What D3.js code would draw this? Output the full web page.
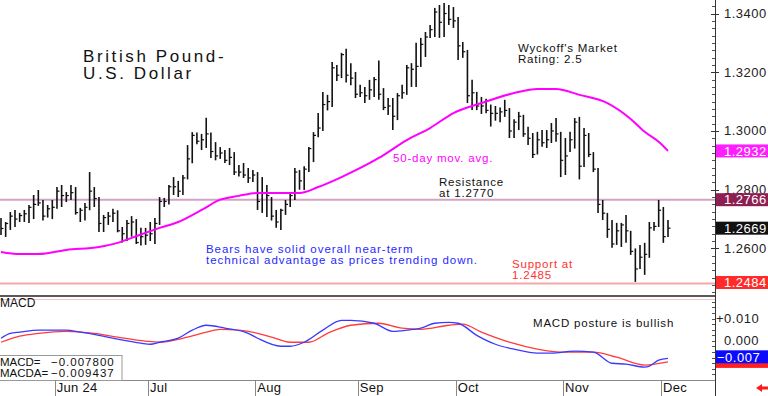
<!DOCTYPE html>
<html>
<head>
<meta charset="utf-8">
<script src="https://cdn.jsdelivr.net/npm/d3@7"></script>
<style>
  body { margin: 0; background: #fff; }
  svg { display: block; font-family: "Liberation Sans", Arial, sans-serif; }
</style>
</head>
<body>
<svg id="chart" width="768" height="396"></svg>
<script>
// trading days, weekdays only
const firstDay = new Date(2024, 4, 16)
const lastDay = new Date(2024, 11, 3)
const monthLabels = ["Jun 24", "Jul", "Aug", "Sep", "Oct", "Nov", "Dec"]

const highs = [1.2704,1.2690,1.2724,1.2731,1.2721,1.2731,1.2748,1.2782,1.2799,1.2765,1.2748,1.2765,
  1.2809,1.2816,1.2792,1.2816,1.2809,1.2738,1.2755,1.2860,1.2809,1.2775,1.2714,1.2724,1.2735,1.2730,1.2673,1.2697,1.2710,1.2700,1.2670,1.2670,
  1.2690,1.2704,1.2775,1.2772,1.2816,1.2843,1.2830,1.2850,1.2952,1.2996,1.2995,1.2990,1.3045,1.2995,1.2962,1.2945,1.2935,1.2942,1.2928,1.2884,1.2891,1.2874,1.2867,
  1.2860,1.2843,1.2816,1.2775,1.2731,1.2735,1.2765,1.2790,1.2874,1.2867,1.2880,1.2945,1.2996,1.3061,1.3133,1.3123,1.3235,1.3225,1.3266,1.3280,1.3231,1.3201,
  1.3157,1.3150,1.3174,1.3184,1.3240,1.3146,1.3112,1.3112,1.3129,1.3157,1.3225,1.3231,1.3300,1.3317,1.3337,1.3361,1.3419,1.3429,1.3436,1.3429,1.3422,
  1.3388,1.3303,1.3276,1.3174,1.3133,1.3116,1.3110,1.3090,1.3085,1.3080,1.3106,1.3078,1.3040,1.3065,1.3055,1.3014,1.2993,1.2997,1.3003,1.3003,1.3027,1.3044,1.2997,
  1.2976,1.2997,1.3044,1.3048,1.3010,1.2993,1.2928,1.2874,1.2765,1.2721,1.2697,1.2687,1.2687,1.2714,1.2660,1.2600,1.2612,1.2619,1.2690,1.2690,1.2765,
  1.2741,1.2697]
const lows = [1.2646,1.2639,1.2663,1.2673,1.2690,1.2690,1.2687,1.2700,1.2745,1.2695,1.2705,1.2700,
  1.2735,1.2741,1.2758,1.2765,1.2715,1.2690,1.2695,1.2730,1.2741,1.2656,1.2656,1.2680,1.2690,1.2655,1.2620,1.2625,1.2640,1.2615,1.2610,1.2612,
  1.2625,1.2615,1.2680,1.2741,1.2750,1.2782,1.2775,1.2782,1.2835,1.2890,1.2955,1.2935,1.2942,1.2908,1.2900,1.2905,1.2891,1.2884,1.2850,1.2845,1.2840,1.2823,1.2826,
  1.2731,1.2721,1.2707,1.2695,1.2670,1.2663,1.2714,1.2741,1.2765,1.2800,1.2799,1.2860,1.2894,1.2979,1.3000,1.3070,1.3082,1.3170,1.3180,1.3165,1.3156,1.3112,
  1.3116,1.3095,1.3106,1.3116,1.3106,1.3071,1.3054,1.3003,1.3037,1.3110,1.3123,1.3150,1.3150,1.3218,1.3252,1.3317,1.3320,1.3317,1.3320,1.3361,1.3351,
  1.3242,1.3249,1.3095,1.3071,1.3071,1.3058,1.3060,1.3015,1.3035,1.3030,1.3048,1.2976,1.2976,1.3003,1.2980,1.2952,1.2908,1.2920,1.2946,1.2942,1.2959,1.2963,1.2843,
  1.2850,1.2928,1.2940,1.2835,1.2877,1.2911,1.2860,1.2721,1.2697,1.2636,1.2602,1.2612,1.2605,1.2619,1.2578,1.2486,1.2530,1.2510,1.2568,1.2660,1.2673,
  1.2619,1.2639]
const closes = [1.2668,1.2685,1.2710,1.2700,1.2712,1.2718,1.2740,1.2750,1.2755,1.2710,1.2735,1.2740,
  1.2795,1.2780,1.2780,1.2790,1.2722,1.2730,1.2740,1.2795,1.2770,1.2685,1.2705,1.2710,1.2720,1.2660,1.2650,1.2685,1.2690,1.2620,1.2640,1.2645,
  1.2650,1.2685,1.2760,1.2760,1.2810,1.2810,1.2795,1.2840,1.2905,1.2985,1.2965,1.2970,1.2990,1.2930,1.2915,1.2925,1.2900,1.2910,1.2860,1.2860,1.2850,1.2840,1.2850,
  1.2760,1.2790,1.2780,1.2710,1.2690,1.2730,1.2750,1.2780,1.2860,1.2830,1.2870,1.2940,1.2985,1.3010,1.3090,1.3100,1.3215,1.3190,1.3260,1.3190,1.3180,1.3125,
  1.3130,1.3120,1.3140,1.3175,1.3125,1.3080,1.3085,1.3050,1.3120,1.3130,1.3215,1.3210,1.3220,1.3295,1.3320,1.3345,1.3405,1.3370,1.3400,1.3380,1.3375,
  1.3290,1.3270,1.3120,1.3130,1.3085,1.3085,1.3070,1.3060,1.3060,1.3065,1.3070,1.3000,1.3030,1.3050,1.2990,1.2975,1.2920,1.2970,1.2960,1.2970,1.3000,1.2990,1.2900,
  1.2915,1.2970,1.3030,1.2880,1.2985,1.2920,1.2870,1.2750,1.2720,1.2665,1.2615,1.2660,1.2680,1.2660,1.2590,1.2530,1.2570,1.2580,1.2670,1.2675,1.2730,
  1.2640,1.2669]

// 50-day moving average, read at bar index
const maIdx = [0,4,8,14,21,25,28,34,38,43,47,51,55,64,68,73,81,87,92,97,103,110,115,119,124,130,135,138,141,143]
const maVal = [1.2588,1.2581,1.2581,1.2595,1.2605,1.2619,1.2636,1.2670,1.2690,1.2731,1.2766,1.2779,1.2789,1.2789,1.2809,1.2843,1.2908,1.2969,1.3010,1.3061,1.3095,1.3129,1.3143,1.3143,1.3123,1.3095,1.3041,1.2997,1.2963,1.2932]

// MACD (blue) and signal (red)
const macdIdx = [0,2,4,8,10,14,17,21,25,30,32,34,38,41,44,48,53,55,60,62,65,69,73,75,80,84,87,90,93,96,98,102,106,110,115,118,123,127,131,134,138,139,141,143]
const macdVal = [0.0012,0.0034,0.0039,0.0048,0.0048,0.0048,0.0039,0.0025,0.0008,-0.0010,-0.0015,-0.0006,0.0012,0.0048,0.0070,0.0057,0.0034,0.0012,-0.0024,-0.0024,-0.0006,0.0048,0.0092,0.0092,0.0079,0.0043,0.0048,0.0057,0.0079,0.0083,0.0079,0.0025,-0.0015,-0.0037,-0.0055,-0.0055,-0.0046,-0.0050,-0.0100,-0.0104,-0.0117,-0.0113,-0.0086,-0.0078]
const sigIdx = [0,4,8,14,20,25,31,34,40,44,47,51,55,58,62,66,70,75,81,86,90,96,99,103,109,115,120,127,132,138,143]
const sigVal = [-0.0006,0.0021,0.0034,0.0043,0.0034,0.0017,-0.0001,-0.0006,0.0017,0.0039,0.0052,0.0048,0.0034,0.0017,-0.0006,-0.0006,0.0034,0.0070,0.0079,0.0057,0.0052,0.0070,0.0075,0.0039,-0.0006,-0.0037,-0.0050,-0.0050,-0.0073,-0.0108,-0.0094]
const macdNow = -0.007800, macdaNow = -0.009437

const priceTicks = [1.26, 1.28, 1.30, 1.32, 1.34]
const macdTicks = [0.01, 0]
const resistance = 1.2766, support = 1.2484

const svg = d3.select("#chart")
const W = 768, plotR = 715
const days = d3.timeDay.range(firstDay, d3.timeDay.offset(lastDay, 1)).filter(d => d.getDay() > 0 && d.getDay() < 6)

const x = d3.scaleLinear().domain([0, days.length - 1]).range([1, 668])
const y = d3.scaleLinear().domain([1.2438, 1.3446]).range([296, 0])
const ym = d3.scaleLinear().domain([-0.0175, 0.0192]).range([380, 298])

// level lines
svg.append("line").attr("x1", 0).attr("x2", plotR).attr("y1", y(resistance)).attr("y2", y(resistance))
  .attr("stroke", "#d2a4c2").attr("stroke-width", 2)
svg.append("line").attr("x1", 0).attr("x2", plotR).attr("y1", y(support) + 1).attr("y2", y(support) + 1)
  .attr("stroke", "#f6a8a8").attr("stroke-width", 2)

// panel separators
svg.append("line").attr("x1", 0).attr("x2", plotR).attr("y1", 296).attr("y2", 296).attr("stroke", "#222").attr("stroke-width", 1.5)
svg.append("line").attr("x1", 0).attr("x2", plotR).attr("y1", 299.5).attr("y2", 299.5).attr("stroke", "#f6c4c4").attr("stroke-width", 1)
svg.append("line").attr("x1", 0).attr("x2", plotR).attr("y1", 380.5).attr("y2", 380.5).attr("stroke", "#888").attr("stroke-width", 1)
svg.append("line").attr("x1", plotR + 0.5).attr("x2", plotR + 0.5).attr("y1", 0).attr("y2", 396).attr("stroke", "#333").attr("stroke-width", 1)

// price bars
const bars = svg.append("g").attr("class", "bars")
bars.selectAll(".hl").data(days).join("line").attr("class", "hl")
  .attr("x1", (d, i) => x(i)).attr("x2", (d, i) => x(i))
  .attr("y1", (d, i) => y(highs[i])).attr("y2", (d, i) => y(lows[i]))
  .attr("stroke", "#111").attr("stroke-width", 1.6)
bars.selectAll(".cl").data(days).join("line").attr("class", "cl")
  .attr("x1", (d, i) => x(i)).attr("x2", (d, i) => x(i) + 2.5)
  .attr("y1", (d, i) => y(closes[i])).attr("y2", (d, i) => y(closes[i]))
  .attr("stroke", "#111").attr("stroke-width", 1.2)

// moving average
const maLine = d3.line().x(d => x(d[0])).y(d => y(d[1])).curve(d3.curveMonotoneX)
svg.append("path").datum(maIdx.map((d, i) => [d, maVal[i]]))
  .attr("d", maLine).attr("fill", "none").attr("stroke", "#ff00ff").attr("stroke-width", 2)

// MACD lines
const mLine = d3.line().x(d => x(d[0])).y(d => ym(d[1])).curve(d3.curveMonotoneX)
svg.append("path").datum(sigIdx.map((d, i) => [d, sigVal[i]]))
  .attr("d", mLine).attr("fill", "none").attr("stroke", "#ff3b3b").attr("stroke-width", 1.3)
svg.append("path").datum(macdIdx.map((d, i) => [d, macdVal[i]]))
  .attr("d", mLine).attr("fill", "none").attr("stroke", "#3a3aff").attr("stroke-width", 1.3)

// right axis
const axisG = svg.append("g").attr("transform", `translate(${plotR},0)`)
const minor = d3.range(1.2450, 1.3450, 0.0025)
axisG.selectAll(".mt").data(minor).join("line").attr("class", "mt")
  .attr("x1", -3).attr("x2", 0).attr("y1", d => Math.round(y(d)) + 0.5).attr("y2", d => Math.round(y(d)) + 0.5)
  .attr("stroke", "#555")
axisG.selectAll(".Mt").data(priceTicks).join("line").attr("class", "Mt")
  .attr("x1", -4).attr("x2", 4).attr("y1", d => Math.round(y(d)) + 0.5).attr("y2", d => Math.round(y(d)) + 0.5)
  .attr("stroke", "#333")
axisG.selectAll(".pl").data(priceTicks).join("text").attr("class", "pl")
  .attr("x", 9).attr("y", d => y(d) + 4.5)
  .attr("font-size", 13).attr("letter-spacing", 0.5).attr("fill", "#222")
  .text(d3.format(".4f"))
const mminor = d3.range(-0.015, 0.019, 0.0025)
axisG.selectAll(".mmt").data(mminor).join("line").attr("class", "mmt")
  .attr("x1", -3).attr("x2", 0).attr("y1", d => Math.round(ym(d)) + 0.5).attr("y2", d => Math.round(ym(d)) + 0.5)
  .attr("stroke", "#555")
axisG.selectAll(".ml").data(macdTicks).join("text").attr("class", "ml")
  .attr("x", d => d > 0 ? 1 : 9).attr("y", d => ym(d) + 4.5)
  .attr("font-size", 13).attr("letter-spacing", 0.5).attr("fill", "#222")
  .text(d => d > 0 ? "+" + d3.format(".3f")(d) : d3.format(".3f")(d))

// value boxes
const boxes = [
  { v: maVal[maVal.length - 1], fill: "#ff1eff" },
  { v: resistance, fill: "#8e1f52" },
  { v: closes[closes.length - 1], fill: "#111" },
  { v: support, fill: "#ff2a2a" }
]
const boxG = svg.append("g")
boxG.selectAll("rect").data(boxes).join("rect")
  .attr("x", plotR + 1).attr("y", d => y(d.v) - 6.5).attr("width", W - plotR).attr("height", 13)
  .attr("fill", d => d.fill)
boxG.selectAll("text").data(boxes).join("text")
  .attr("x", plotR + 9).attr("y", d => y(d.v) + 4.8)
  .attr("font-size", 13).attr("letter-spacing", 0.5).attr("fill", "#fff")
  .text(d => d3.format(".4f")(d.v))
const lastSig = sigVal[sigVal.length - 1], lastMacd = macdVal[macdVal.length - 1]
svg.append("rect").attr("x", plotR + 1).attr("y", ym(lastSig) - 6).attr("width", W - plotR).attr("height", 12).attr("fill", "#ff2020")
svg.append("rect").attr("x", plotR + 1).attr("y", ym(lastMacd) - 8).attr("width", W - plotR).attr("height", 13).attr("fill", "#0a0aff")
svg.append("text").attr("x", plotR + 2).attr("y", ym(lastMacd) + 3.5)
  .attr("font-size", 13).attr("letter-spacing", 0.5).attr("fill", "#fff")
  .text(d3.format(".3f")(Math.trunc(lastMacd * 1000) / 1000))

// date axis
const seps = []
days.forEach((d, i) => { if (i > 0 && d.getMonth() !== days[i - 1].getMonth()) seps.push((x(i - 1) + x(i)) / 2) })
const dateG = svg.append("g")
dateG.selectAll("line").data(seps).join("line")
  .attr("x1", d => Math.round(d) + 0.5).attr("x2", d => Math.round(d) + 0.5).attr("y1", 380).attr("y2", 396)
  .attr("stroke", "#888")
dateG.selectAll("text").data(seps).join("text")
  .attr("x", d => d + 2).attr("y", 392).attr("font-size", 13).attr("letter-spacing", 0.3).attr("fill", "#111")
  .text((d, i) => monthLabels[i])

// MACD readout box
svg.append("rect").attr("x", -1).attr("y", 355.5).attr("width", 123).attr("height", 25).attr("fill", "#fff").attr("stroke", "#999")
svg.append("text").attr("x", 0).attr("y", 366).attr("font-size", 11.5).attr("fill", "#111").text("MACD=")
svg.append("text").attr("x", 0).attr("y", 377).attr("font-size", 11.5).attr("fill", "#111").text("MACDA=")
svg.append("text").attr("x", 51).attr("y", 366).attr("font-size", 11.5).attr("letter-spacing", 1).attr("fill", "#111").text(d3.format(".6f")(macdNow))
svg.append("text").attr("x", 51).attr("y", 377).attr("font-size", 11.5).attr("letter-spacing", 1).attr("fill", "#111").text(d3.format(".6f")(macdaNow))
svg.append("text").attr("x", 0).attr("y", 307).attr("font-size", 12).attr("fill", "#111").text("MACD")

// red arrow bottom right
svg.append("path").attr("d", "M756,388 L762,384 L762,386.5 L768,386.5 L768,389.5 L762,389.5 L762,392 Z").attr("fill", "#ff1a1a")

// notes
const note = (tx, ty, lines, col, size, ls, gap) => {
  const t = svg.append("text").attr("x", tx).attr("y", ty).attr("font-size", size).attr("letter-spacing", ls).attr("fill", col)
  lines.forEach((s, i) => t.append("tspan").attr("x", tx).attr("dy", i ? gap : 0).text(s))
}
note(83, 62, ["British Pound-", "U.S. Dollar"], "#111", 17, 2.6, 17)
note(518, 52, ["Wyckoff's Market", "Rating: 2.5"], "#111", 11.5, 0.8, 11)
note(393, 162, ["50-day mov. avg."], "#ff00ff", 11.5, 0.8, 11)
note(439, 186, ["Resistance", "at 1.2770"], "#111", 11.5, 0.8, 11)
note(206, 253, ["Bears have solid overall near-term", "technical advantage as prices trending down."], "#2828ff", 11.5, 0.95, 11)
note(512, 268, ["Support at", "1.2485"], "#ff3030", 11.5, 0.8, 11)
note(533, 327, ["MACD posture is bullish"], "#111", 11.5, 0.8, 11)
</script>
</body>
</html>
